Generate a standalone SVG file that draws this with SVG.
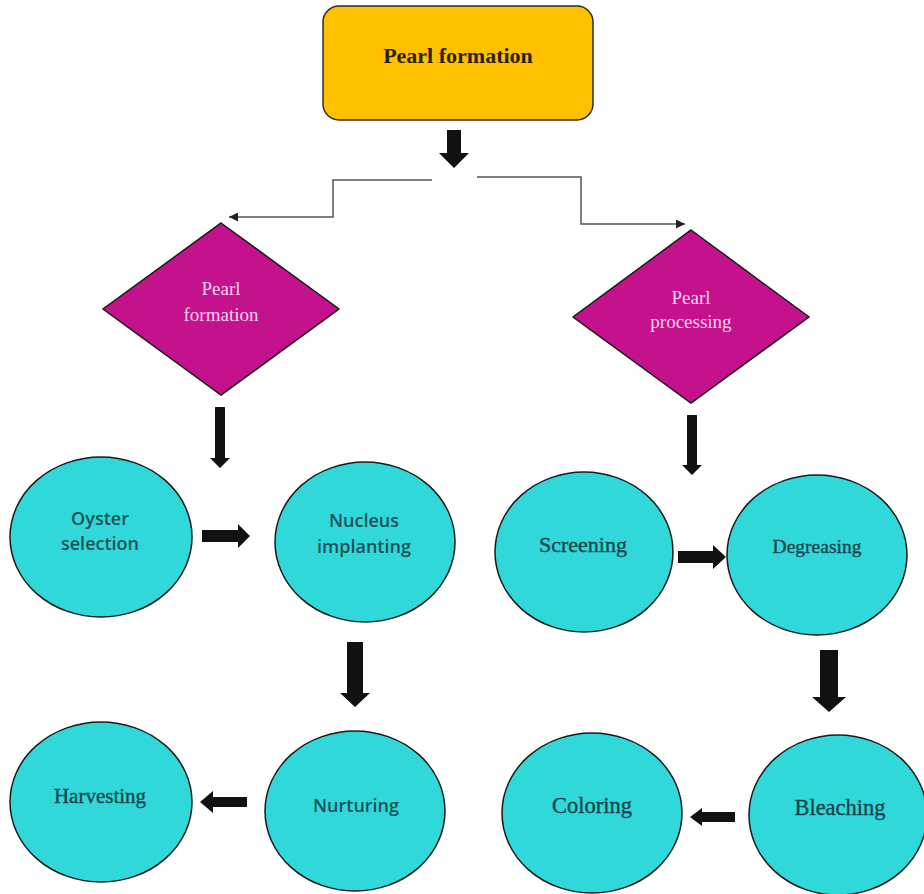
<svg xmlns="http://www.w3.org/2000/svg" width="924" height="894" viewBox="0 0 924 894">
<style>
  .bg{fill:#ffffff}
  .box{fill:#FFC000;stroke:#2b2b2b;stroke-width:1.5}
  .dia{fill:#C4118C;stroke:#1a1a1a;stroke-width:1.5}
  .cir{fill:#30D8DA;stroke:#1a1a1a;stroke-width:1.5}
  .thin{fill:none;stroke:#555555;stroke-width:1.5}
  .block{fill:#111111}
  .serif{font-family:"Liberation Serif","Times New Roman",serif;text-anchor:middle}
  .sans{font-family:"Open Sans","Noto Sans",sans-serif;font-weight:600;text-anchor:middle;font-size:18px;fill:#1E5258}
  .ctext{fill:#1A444A;stroke:#1A444A;stroke-width:0.35}
  .dtext{fill:#F8D2F0;font-size:19px}
</style>
<defs>
  <marker id="tri" viewBox="0 0 10 10" refX="10" refY="5" markerWidth="10" markerHeight="9" orient="auto" markerUnits="userSpaceOnUse">
    <path d="M0,0 L10,5 L0,10 Z" fill="#222222"/>
  </marker>
</defs>
<rect class="bg" x="0" y="0" width="924" height="894"/>

<g id="connectors">
  <polyline class="thin" points="432,180 333,180 333,217 229,217" marker-end="url(#tri)"/>
  <polyline class="thin" points="477,177 581,177 581,224 685,224" marker-end="url(#tri)"/>
  <polygon class="block" points="447,130 461,130 461,153 469,153 454,168 439,153 447,153"/>
  <polygon class="block" points="215,407 225,407 225,458 230,458 220,468 210,458 215,458"/>
  <polygon class="block" points="687,415 697,415 697,465 702,465 692,475 682,465 687,465"/>
  <polygon class="block" points="202,530 238,530 238,524 250,536 238,548 238,542 202,542"/>
  <polygon class="block" points="347,642 363,642 363,693 370,693 355,707 340,693 347,693"/>
  <polygon class="block" points="247,797 213,797 213,791 200,802 213,813 213,807 247,807"/>
  <polygon class="block" points="678,551 713,551 713,545 726,557 713,569 713,563 678,563"/>
  <polygon class="block" points="820,650 838,650 838,697 846,697 829,712 812,697 820,697"/>
  <polygon class="block" points="735,812 702,812 702,808 690,817 702,826 702,822 735,822"/>
</g>

<g id="node-top">
  <rect class="box" x="323" y="6" width="270" height="114" rx="16" ry="16"/>
  <text class="serif" x="458" y="63" font-size="22" font-weight="bold" fill="#2a2208">Pearl formation</text>
</g>

<g id="node-diamond-formation">
  <polygon class="dia" points="221,223 339,309 221,395 103,309"/>
  <text class="serif dtext" x="221" y="295">Pearl</text>
  <text class="serif dtext" x="221" y="321">formation</text>
</g>

<g id="node-diamond-processing">
  <polygon class="dia" points="691,230 809,317 691,403 573,317"/>
  <text class="serif dtext" x="691" y="304">Pearl</text>
  <text class="serif dtext" x="691" y="328">processing</text>
</g>

<g id="node-oyster">
  <ellipse class="cir" cx="101" cy="537" rx="91" ry="80"/>
  <text class="sans" x="100" y="525">Oyster</text>
  <text class="sans" x="100" y="550">selection</text>
</g>

<g id="node-nucleus">
  <ellipse class="cir" cx="365" cy="542" rx="90" ry="80"/>
  <text class="sans" x="364" y="527">Nucleus</text>
  <text class="sans" x="364" y="553">implanting</text>
</g>

<g id="node-nurturing">
  <ellipse class="cir" cx="355" cy="811" rx="90" ry="80"/>
  <text class="sans" x="356" y="812">Nurturing</text>
</g>

<g id="node-harvesting">
  <ellipse class="cir" cx="101" cy="802" rx="91" ry="80"/>
  <text class="serif ctext" x="100" y="803" font-size="21">Harvesting</text>
</g>

<g id="node-screening">
  <ellipse class="cir" cx="584" cy="552" rx="89" ry="80"/>
  <text class="serif ctext" x="583" y="552" font-size="22">Screening</text>
</g>

<g id="node-degreasing">
  <ellipse class="cir" cx="817" cy="555" rx="90" ry="80"/>
  <text class="serif ctext" x="817" y="553" font-size="19.5">Degreasing</text>
</g>

<g id="node-bleaching">
  <ellipse class="cir" cx="838" cy="815" rx="89" ry="80"/>
  <text class="serif ctext" x="840" y="815" font-size="22.5">Bleaching</text>
</g>

<g id="node-coloring">
  <ellipse class="cir" cx="592" cy="813" rx="90" ry="80"/>
  <text class="serif ctext" x="592" y="813" font-size="22.5">Coloring</text>
</g>
</svg>
